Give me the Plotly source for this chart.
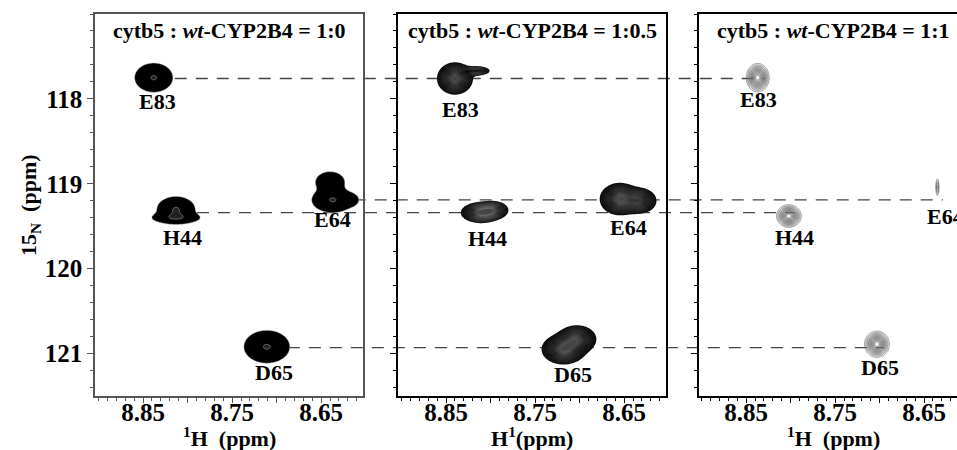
import numpy as np
import plotly.graph_objects as go

# ---------------- data ----------------
ratio_labels = ["1:0", "1:0.5", "1:1"]
residues = ["E83", "H44", "E64", "D65"]

# peak components: panel, residue, 1H (ppm), 15N (ppm), relative height, width 1H, width 15N
comp_panel = [0, 0, 0, 0, 0, 0, 0,
              1, 1, 1, 1, 1, 1, 1, 1,
              2, 2, 2, 2]
comp_res = ["E83", "H44", "H44", "E64", "E64", "E64", "D65",
            "E83", "E83", "H44", "H44", "E64", "E64", "D65", "D65",
            "E83", "H44", "E64", "D65"]
comp_H = [8.838, 8.813, 8.813, 8.637, 8.640, 8.617, 8.711,
          8.840, 8.816, 8.811, 8.797, 8.655, 8.633, 8.718, 8.703,
          8.837, 8.802, 8.635, 8.703]
comp_N = [117.75, 119.30, 119.40, 119.19, 118.98, 119.19, 120.92,
          117.76, 117.67, 119.34, 119.31, 119.18, 119.20, 120.95, 120.83,
          117.75, 119.38, 119.04, 120.89]
comp_amp = [1.0, 1.0, 0.8, 1.0, 0.8, 0.4, 1.0,
            1.0, 0.45, 1.0, 0.7, 1.0, 0.8, 1.0, 0.85,
            1.0, 1.0, 0.3, 1.0]
comp_sH = [0.0100, 0.010, 0.013, 0.011, 0.008, 0.005, 0.0120,
           0.009, 0.008, 0.010, 0.008, 0.010, 0.009, 0.011, 0.010,
           0.0060, 0.0065, 0.0012, 0.0065]
comp_sN = [0.080, 0.070, 0.035, 0.070, 0.060, 0.040, 0.090,
           0.085, 0.030, 0.055, 0.050, 0.085, 0.070, 0.080, 0.075,
           0.078, 0.062, 0.065, 0.072]

# residue label positions per panel
label_H = [[8.834, 8.806, 8.637, 8.703],
           [8.834, 8.804, 8.645, 8.708],
           [8.836, 8.796, 8.626, 8.699]]
label_N = [[118.03, 119.63, 119.42, 121.22],
           [118.12, 119.64, 119.52, 121.25],
           [118.01, 119.63, 119.39, 121.16]]

# reference 15N shifts for the dashed guide lines (free cytb5)
ref_N = [117.76, 119.34, 119.19, 120.93]
ref_H_end = [8.829, 8.795, 8.629, 8.695]

x_ticks = [8.85, 8.80, 8.75, 8.70, 8.65]
x_ticktext = ["8.85", " ", "8.75", " ", "8.65"]
y_ticks = [118, 119, 120, 121]

# ---------------- layout geometry ----------------
W, H = 957, 450
ml, mr, mt, mb = 95, 0, 14, 54
pw = W - ml - mr
domains = [[0, 268 / pw], [303 / pw, 571 / pw], [604 / pw, 1.0]]
xranges = [[8.904, 8.603], [8.904, 8.603], [8.903, 8.613]]
yrange = [121.5, 117.0]

serif = "Liberation Serif, Times New Roman, serif"

fig = go.Figure()

styles = [
    dict(contours=dict(start=0.1, end=0.95, size=0.85, coloring="fill"),
         colorscale=[[0, "rgba(255,255,255,0)"], [0.001, "#000"], [0.6, "#000"], [1, "#222"]],
         line=dict(color="#bbbbbb", width=0.5)),
    dict(contours=dict(start=0.08, end=1.0, size=0.04, coloring="fill"),
         colorscale=[[0, "rgba(255,255,255,0)"], [0.001, "#000"], [0.6, "#080808"], [1, "#444"]],
         line=dict(color="rgba(210,210,210,0.32)", width=0.4)),
    dict(contours=dict(start=0.1, end=1.0, size=0.06, coloring="lines"),
         colorscale=[[0, "#727272"], [1, "#727272"]],
         line=dict(width=0.8)),
]

comp_panel_a = np.array(comp_panel)
comp_res_a = np.array(comp_res)
for p in range(3):
    for r in residues:
        idx = np.where((comp_panel_a == p) & (comp_res_a == r))[0]
        if len(idx) == 0:
            continue
        hs = np.array(comp_H)[idx]; ns = np.array(comp_N)[idx]
        sh = np.array(comp_sH)[idx]; sn = np.array(comp_sN)[idx]
        am = np.array(comp_amp)[idx]
        xs = np.linspace((hs - 4 * sh).min(), (hs + 4 * sh).max(), 140)
        ys = np.linspace((ns - 4 * sn).min(), (ns + 4 * sn).max(), 140)
        X, Y = np.meshgrid(xs, ys)
        Z = np.zeros_like(X)
        for a, h0, n0, s1, s2 in zip(am, hs, ns, sh, sn):
            Z += a * np.exp(-0.5 * (((X - h0) / s1) ** 2 + ((Y - n0) / s2) ** 2))
        st = styles[p]
        fig.add_trace(go.Contour(
            x=np.round(xs, 5), y=np.round(ys, 4), z=np.round(Z, 4),
            xaxis="x" if p == 0 else f"x{p+1}", yaxis="y" if p == 0 else f"y{p+1}",
            autocontour=False, contours=st["contours"], colorscale=st["colorscale"],
            line=st["line"], showscale=False, hoverinfo="skip",
        ))

# dashed guide lines spanning all panels (paper x, data y)
def to_paper(p, h):
    r0, r1 = xranges[p]
    d0, d1 = domains[p]
    return d0 + (r0 - h) / (r0 - r1) * (d1 - d0)

for k, r in enumerate(residues):
    i0 = [i for i in range(len(comp_H)) if comp_panel[i] == 0 and comp_res[i] == r][0]
    fig.add_shape(type="line", xref="paper", yref="y",
                  x0=to_paper(0, comp_H[i0]), x1=to_paper(2, ref_H_end[k]),
                  y0=ref_N[k], y1=ref_N[k], layer="below",
                  line=dict(color="#444", width=1.3, dash="12px,9px"))

x_titles = ["<sup>1</sup>H  (ppm)", "H<sup>1</sup>(ppm)", "<sup>1</sup>H  (ppm)"]
axis_colors = ["#555", "#000", "#000"]

annotations = []
for p in range(3):
    xa = "x" if p == 0 else f"x{p+1}"
    ya = "y" if p == 0 else f"y{p+1}"
    for k, r in enumerate(residues):
        annotations.append(dict(x=label_H[p][k], y=label_N[p][k], xref=xa, yref=ya,
                                text=r, showarrow=False,
                                font=dict(family=serif, size=22, color="#000", weight="bold")))
    tx = 0.5 if p < 2 else 134 / 258
    annotations.append(dict(x=tx, y=1, xref=f"{xa} domain", yref=f"{ya} domain",
                            yanchor="top", yshift=-2, showarrow=False,
                            text=f"cytb5 : <i>wt</i>-CYP2B4 = {ratio_labels[p]}",
                            font=dict(family=serif, size=22, color="#000", weight="bold")))
    # x-axis title
    annotations.append(dict(x=tx, y=0, xref=f"{xa} domain", yref="paper",
                            yanchor="middle", yshift=-41, showarrow=False,
                            text=x_titles[p],
                            font=dict(family=serif, size=22, color="#000", weight="bold")))
# y-axis title
annotations.append(dict(x=0, y=0.5, xref="paper", yref="paper", xshift=-81,
                        textangle=-90, showarrow=False,
                        text="15<sub>N</sub>  (ppm)",
                        font=dict(family=serif, size=22, color="#000", weight="bold")))

layout = dict(
    width=W, height=H,
    margin=dict(l=ml, r=mr, t=mt, b=mb),
    paper_bgcolor="white", plot_bgcolor="rgba(0,0,0,0)",
    showlegend=False, annotations=annotations,
    font=dict(family=serif, color="#000"),
)
for p in range(3):
    xn = "xaxis" if p == 0 else f"xaxis{p+1}"
    yn = "yaxis" if p == 0 else f"yaxis{p+1}"
    ya = "y" if p == 0 else f"y{p+1}"
    xa = "x" if p == 0 else f"x{p+1}"
    layout[xn] = dict(
        domain=domains[p], anchor=ya, range=xranges[p],
        tickvals=x_ticks, ticktext=x_ticktext, ticks="outside", ticklen=5, tickwidth=1,
        tickcolor=axis_colors[p], ticklabelstandoff=-12,
        minor=dict(dtick=0.01, tick0=8.6, ticks="outside", ticklen=3, tickcolor=axis_colors[p]),
        tickfont=dict(family=serif, size=25, color="#000", weight="bold"),
        showgrid=False, zeroline=False, showline=True, linecolor=axis_colors[p], linewidth=1.5,
        mirror=True,
    )
    layout[yn] = dict(
        domain=[0, 1], anchor=xa, range=yrange,
        tickvals=y_ticks, ticks="outside", ticklen=6, tickwidth=1, tickcolor=axis_colors[p],
        minor=dict(dtick=0.2, tick0=117, ticks="outside", ticklen=3, tickcolor=axis_colors[p]),
        showticklabels=(p == 0),
        tickfont=dict(family=serif, size=25, color="#000", weight="bold"),
        showgrid=False, zeroline=False, showline=True, linecolor=axis_colors[p], linewidth=1.5,
        mirror=(p < 2),
    )

fig.update_layout(**layout)
fig.write_html("out.html", config={"displayModeBar": False},
               post_script="document.body.style.margin='0px';document.body.style.overflow='hidden';")
